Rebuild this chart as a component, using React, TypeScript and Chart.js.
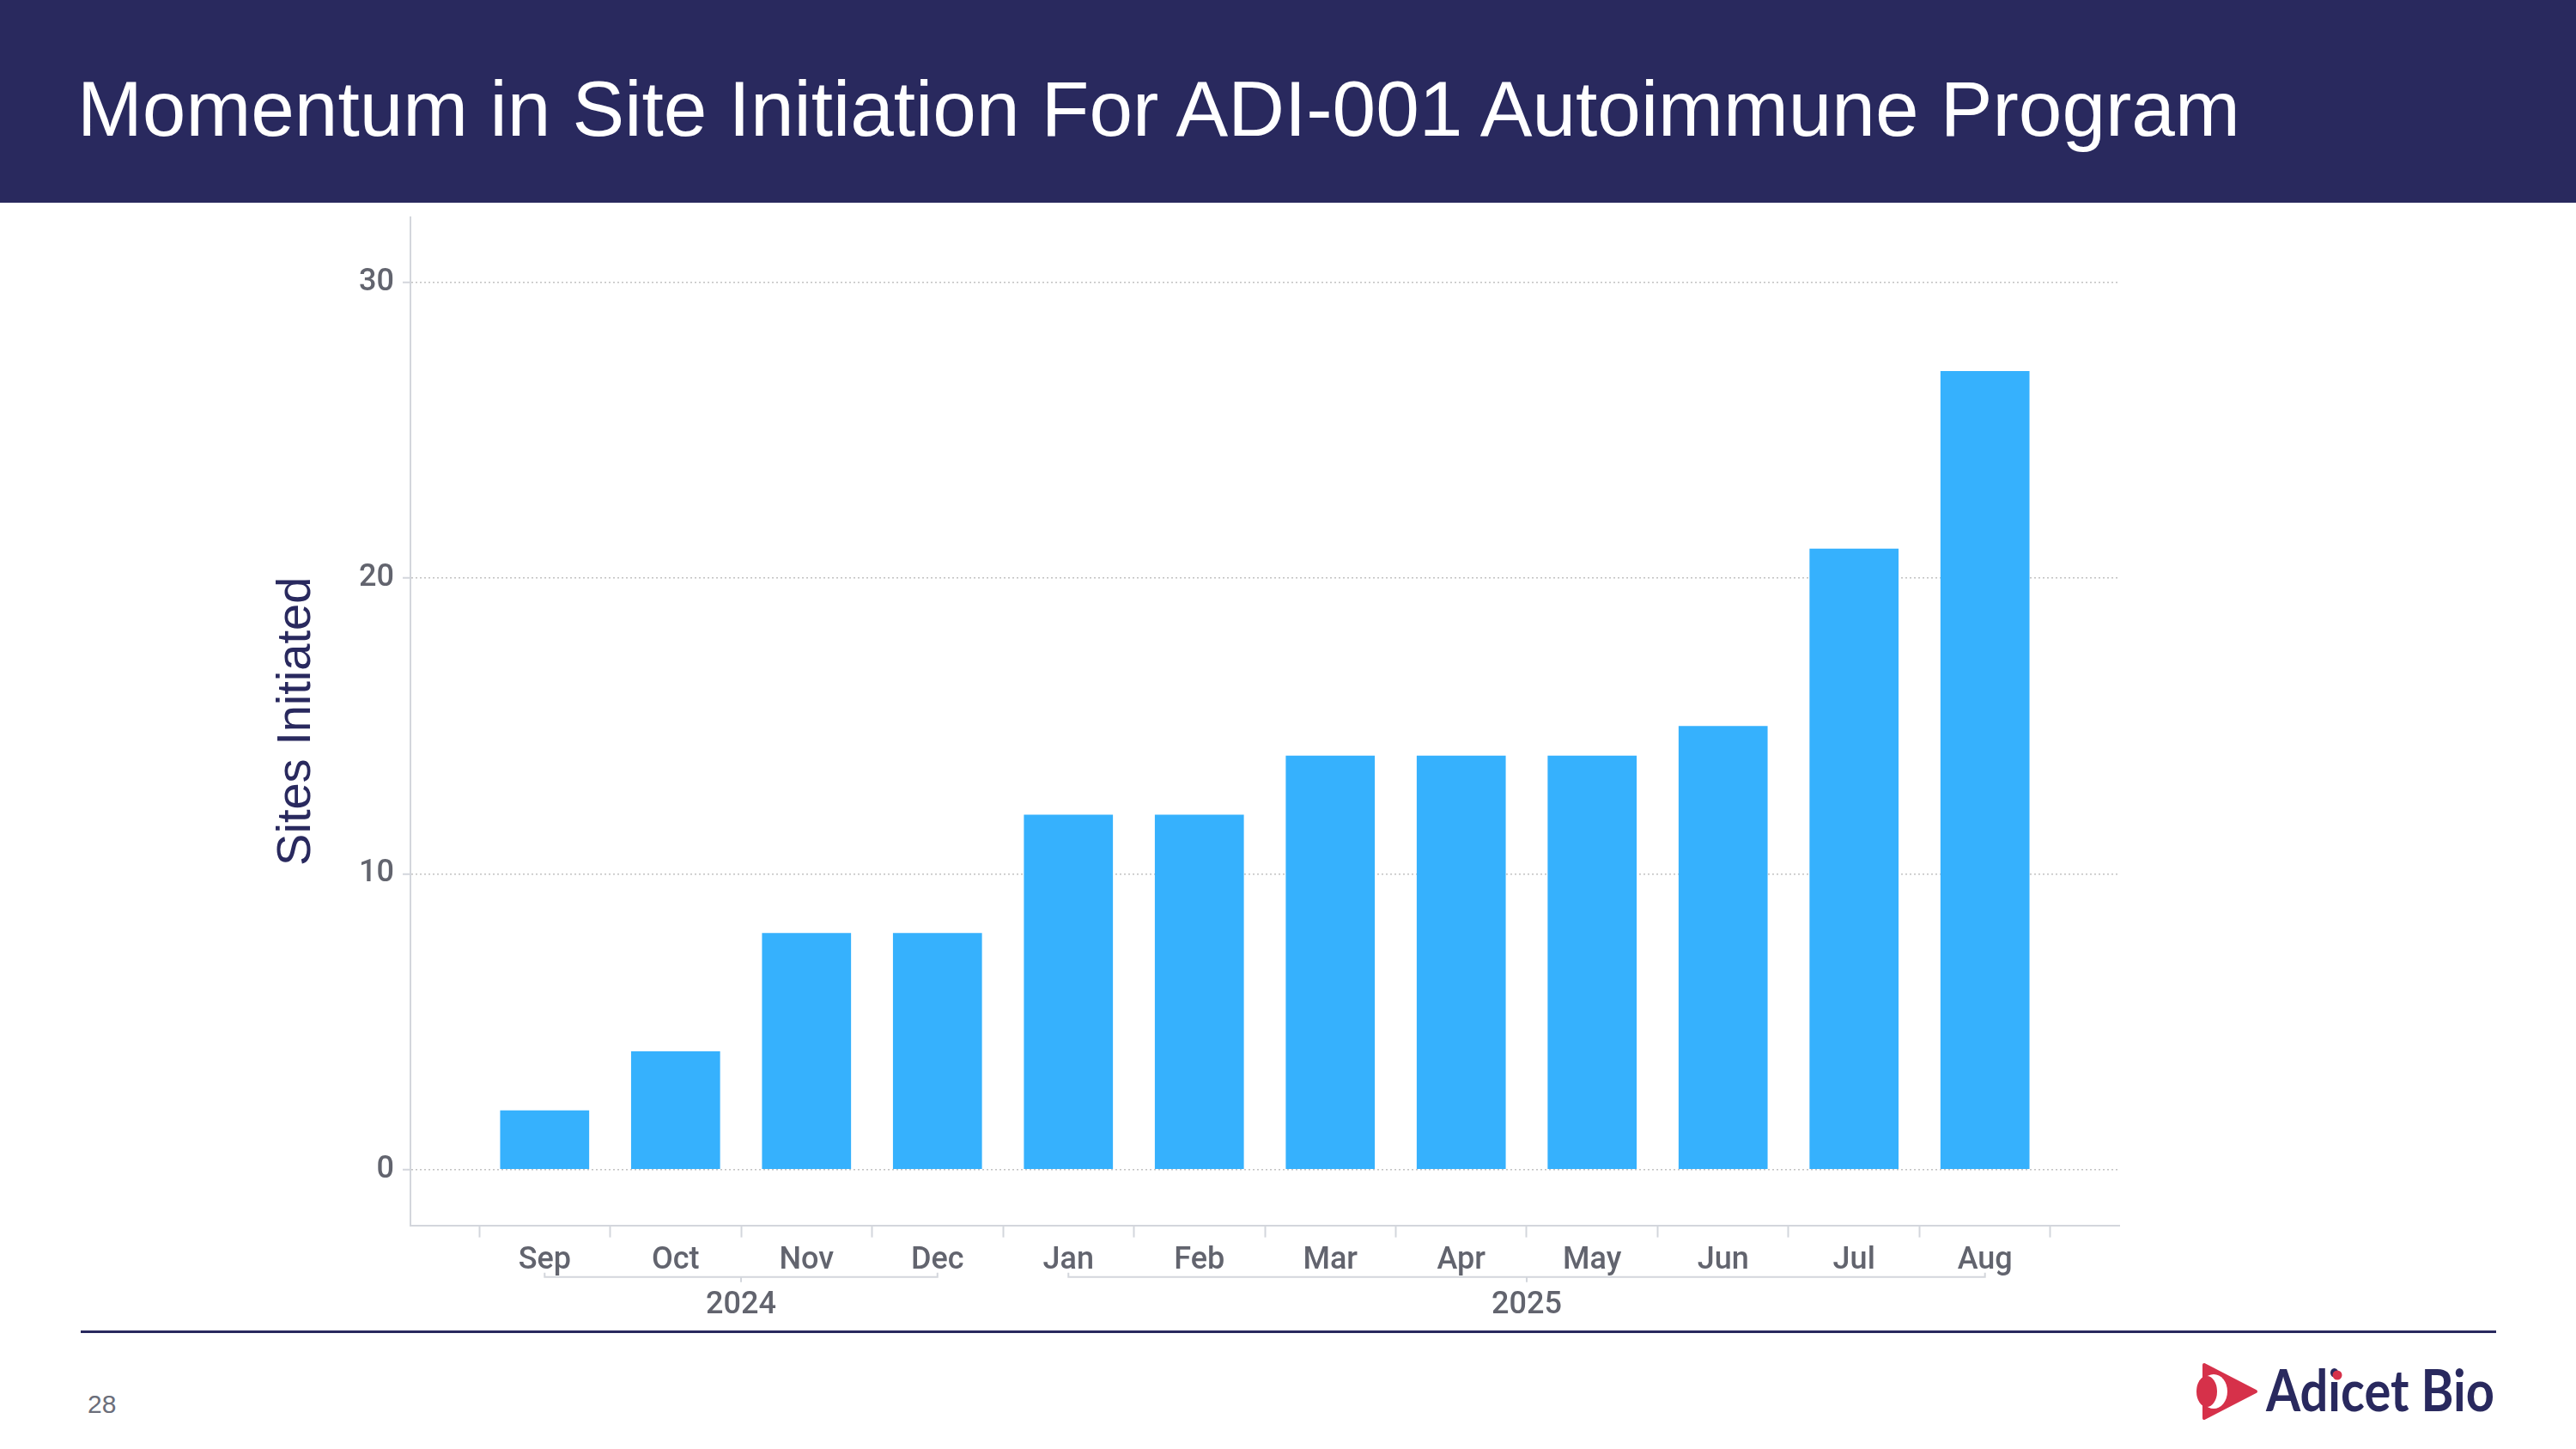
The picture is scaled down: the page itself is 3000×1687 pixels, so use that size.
import React, { useEffect, useRef } from "react";
import { Chart, registerables } from "chart.js";

Chart.register(...registerables);

const months = ["Sep", "Oct", "Nov", "Dec", "Jan", "Feb", "Mar", "Apr", "May", "Jun", "Jul", "Aug"];
const sitesInitiated = [2, 4, 8, 8, 12, 12, 14, 14, 14, 15, 21, 27];
const yTicks = [0, 10, 20, 30];
const years = ["2024", "2025"];
const yearStartIndex = [0, 4];
const yearEndIndex = [3, 11];

const NAVY = "#29295e";
const BAR = "#36b1fd";
const AXIS = "#d3d6dc";
const TICK_TEXT = "#62646e";
const X_MIN = -1.025;
const X_MAX = 12.025;

const yearBrackets = {
  id: "yearBrackets",
  afterDraw(chart: any) {
    const x = chart.scales.x;
    const x2 = chart.scales.x2;
    const ctx = chart.ctx;
    const y = x2.top - 9;
    ctx.save();
    ctx.strokeStyle = AXIS;
    ctx.lineWidth = 2;
    years.forEach((_, i) => {
      const a = x.getPixelForValue(yearStartIndex[i]);
      const b = x.getPixelForValue(yearEndIndex[i]);
      const m = (a + b) / 2;
      ctx.beginPath();
      ctx.moveTo(a, y - 5);
      ctx.lineTo(a, y);
      ctx.lineTo(b, y);
      ctx.lineTo(b, y - 5);
      ctx.moveTo(m, y);
      ctx.lineTo(m, y + 6);
      ctx.stroke();
    });
    ctx.restore();
  },
};

function BarChart() {
  const ref = useRef<HTMLCanvasElement | null>(null);
  useEffect(() => {
    if (!ref.current) return;
    const tickFont = { family: "Roboto", size: 36, weight: 500 as any };
    const chart = new Chart(ref.current, {
      type: "bar",
      data: {
        datasets: [
          {
            data: months.map((_, i) => ({ x: i, y: sitesInitiated[i] })),
            backgroundColor: BAR,
            borderWidth: 0,
            barPercentage: 1,
            categoryPercentage: 1.36,
          },
        ],
      },
      options: {
        animation: false,
        responsive: false,
        devicePixelRatio: 1,
        layout: { padding: { left: 308, right: 532, top: 53, bottom: 15 } },
        plugins: { legend: { display: false }, tooltip: { enabled: false } },
        scales: {
          x: {
            type: "linear",
            position: "bottom",
            weight: 0,
            min: X_MIN,
            max: X_MAX,
            offset: false,
            afterBuildTicks: (s: any) => {
              const t: any[] = [];
              for (let i = 0; i <= months.length * 2; i++) t.push({ value: i / 2 - 0.5 });
              s.ticks = t;
            },
            grid: {
              offset: false,
              drawOnChartArea: false,
              drawTicks: true,
              tickLength: 14,
              tickWidth: 2,
              tickColor: (c: any) => (Number.isInteger(c.tick?.value) ? "rgba(0,0,0,0)" : AXIS),
            },
            border: { display: true, color: AXIS, width: 2 },
            ticks: {
              autoSkip: false,
              maxRotation: 0,
              minRotation: 0,
              padding: 6,
              color: TICK_TEXT,
              font: tickFont,
              callback: (v: any) => (Number.isInteger(v) ? months[v] : ""),
            },
          } as any,
          x2: {
            type: "linear",
            position: "bottom",
            weight: 1,
            min: X_MIN,
            max: X_MAX,
            offset: false,
            afterBuildTicks: (s: any) => {
              s.ticks = years.map((_, i) => ({ value: (yearStartIndex[i] + yearEndIndex[i]) / 2 }));
            },
            grid: { display: false, drawTicks: false, offset: false },
            border: { display: false },
            ticks: {
              autoSkip: false,
              maxRotation: 0,
              minRotation: 0,
              padding: 3,
              color: TICK_TEXT,
              font: tickFont,
              callback: (_v: any, i: number) => years[i],
            },
          } as any,
          y: {
            type: "linear",
            min: -1.884,
            max: 32.2,
            afterBuildTicks: (s: any) => {
              s.ticks = yTicks.map((v) => ({ value: v }));
            },
            afterFit: (s: any) => {
              s.width = 170;
            },
            grid: {
              color: "#c2c2c2",
              lineWidth: 1.5,
              drawTicks: true,
              tickLength: 9,
              tickColor: AXIS,
              tickWidth: 2,
              tickBorderDash: [],
            },
            border: { display: true, color: AXIS, width: 2, dash: [2, 3] },
            ticks: { padding: 10, color: TICK_TEXT, font: tickFont },
            title: {
              display: true,
              text: "Sites Initiated",
              color: NAVY,
              font: { family: "'Liberation Sans', Arial, sans-serif", size: 56, weight: 400 as any },
              padding: { top: 4, bottom: 4 },
            },
          } as any,
        },
      },
      plugins: [yearBrackets],
    } as any);
    return () => chart.destroy();
  }, []);
  return (
    <canvas
      ref={ref}
      width={3000}
      height={1360}
      style={{ position: "absolute", left: 0, top: 200, width: 3000, height: 1360 }}
    />
  );
}

export default function App() {
  return (
    <div
      style={{
        position: "absolute",
        left: 0,
        top: 0,
        width: 3000,
        height: 1687,
        overflow: "hidden",
        background: "#ffffff",
        fontFamily: "'Liberation Sans', Arial, sans-serif",
      }}
    >
      <div style={{ position: "absolute", left: 0, top: 0, width: 3000, height: 236, background: NAVY }} />
      <div
        style={{
          position: "absolute",
          left: 90,
          top: 81,
          fontSize: 91,
          lineHeight: "91px",
          color: "#ffffff",
          whiteSpace: "nowrap",
        }}
      >
        Momentum in Site Initiation For ADI-001 Autoimmune Program
      </div>
      <BarChart />
      <div style={{ position: "absolute", left: 94, top: 1549, width: 2813, height: 3, background: NAVY }} />
      <div
        style={{
          position: "absolute",
          left: 102,
          top: 1620,
          fontSize: 30,
          lineHeight: "30px",
          color: "#6b6e7a",
        }}
      >
        28
      </div>
      <svg
        style={{ position: "absolute", left: 2540, top: 1570 }}
        width={400}
        height={100}
        viewBox="0 0 400 100"
      >
        <path d="M27,19 L87,50 L27,81 Z" fill="#d6314a" stroke="#d6314a" strokeWidth={4} strokeLinejoin="round" />
        <ellipse cx={38} cy={50} rx={16} ry={20} fill="#ffffff" />
        <ellipse cx={30} cy={50} rx={12} ry={18} fill="#d6314a" />
        <text
          x={99}
          y={73}
          fontFamily="Lato, 'Open Sans', sans-serif"
          fontWeight={700}
          fontSize={66}
          fill={NAVY}
          textLength={266}
          lengthAdjust="spacingAndGlyphs"
        >
          Adicet Bio
        </text>
        <circle cx={182} cy={31} r={5.5} fill="#d6314a" />
      </svg>
    </div>
  );
}
